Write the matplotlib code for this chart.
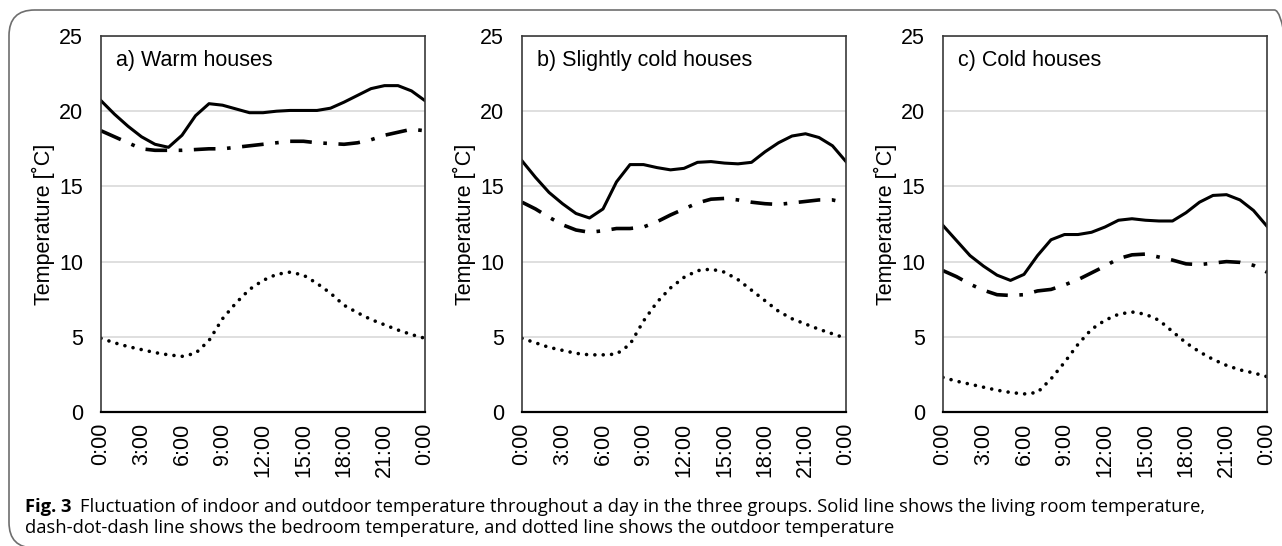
import matplotlib
matplotlib.use("Agg")
import matplotlib.pyplot as plt
from matplotlib.patches import FancyBboxPatch

plt.rcParams['font.family'] = ['Liberation Sans', 'DejaVu Sans']

hours = list(range(25))
tick_pos = [0, 3, 6, 9, 12, 15, 18, 21, 24]
tick_labels = ["0:00", "3:00", "6:00", "9:00", "12:00", "15:00", "18:00", "21:00", "0:00"]
titles = ["a) Warm houses", "b) Slightly cold houses", "c) Cold houses"]

# living room (solid)
living_a = [20.7, 19.8, 19.0, 18.3, 17.8, 17.6, 18.4, 19.7, 20.5, 20.4, 20.15, 19.9, 19.9,
            20.0, 20.05, 20.05, 20.05, 20.2, 20.6, 21.05, 21.5, 21.7, 21.7, 21.35, 20.7]
living_b = [16.7, 15.6, 14.6, 13.85, 13.2, 12.9, 13.5, 15.3, 16.45, 16.45, 16.25, 16.1, 16.2,
            16.6, 16.65, 16.55, 16.5, 16.6, 17.3, 17.9, 18.35, 18.5, 18.25, 17.7, 16.65]
living_c = [12.4, 11.4, 10.4, 9.7, 9.1, 8.75, 9.15, 10.4, 11.45, 11.8, 11.8, 11.95, 12.3,
            12.75, 12.85, 12.75, 12.7, 12.7, 13.25, 13.95, 14.4, 14.45, 14.1, 13.4, 12.35]

# bedroom (dash-dot-dash)
bedroom_a = [18.7, 18.3, 17.9, 17.5, 17.4, 17.4, 17.4, 17.45, 17.5, 17.5, 17.6, 17.7, 17.8,
             17.9, 18.0, 18.0, 17.9, 17.85, 17.8, 17.9, 18.1, 18.4, 18.6, 18.8, 18.7]
bedroom_b = [13.95, 13.5, 12.95, 12.45, 12.1, 11.95, 12.05, 12.2, 12.2, 12.3, 12.65, 13.1, 13.5,
             13.9, 14.15, 14.2, 14.1, 13.95, 13.85, 13.8, 13.9, 14.0, 14.1, 14.1, 13.9]
bedroom_c = [9.4, 9.0, 8.5, 8.1, 7.8, 7.75, 7.8, 8.05, 8.15, 8.45, 8.8, 9.25, 9.7,
             10.2, 10.45, 10.5, 10.3, 10.1, 9.85, 9.8, 9.9, 10.0, 9.95, 9.75, 9.3]

# outdoor (dotted)
outdoor_a = [4.9, 4.6, 4.35, 4.15, 3.95, 3.8, 3.7, 3.9, 4.75, 6.2, 7.25, 8.15, 8.75,
             9.15, 9.3, 9.1, 8.55, 7.9, 7.1, 6.6, 6.15, 5.8, 5.45, 5.15, 4.9]
outdoor_b = [4.9, 4.6, 4.3, 4.1, 3.9, 3.8, 3.8, 3.85, 4.5, 6.05, 7.3, 8.25, 8.95,
             9.4, 9.5, 9.3, 8.8, 8.1, 7.4, 6.7, 6.2, 5.85, 5.5, 5.2, 4.9]
outdoor_c = [2.3, 2.05, 1.85, 1.65, 1.45, 1.3, 1.2, 1.3, 2.2, 3.3, 4.5, 5.5, 6.1,
             6.5, 6.65, 6.5, 6.1, 5.35, 4.6, 4.0, 3.5, 3.1, 2.8, 2.6, 2.35]

groups = [(living_a, bedroom_a, outdoor_a),
          (living_b, bedroom_b, outdoor_b),
          (living_c, bedroom_c, outdoor_c)]

W, H = 1282, 546
fig = plt.figure(figsize=(W / 100, H / 100), dpi=100)

# rounded frame around the figure (cut at right and bottom like the source)
frame = FancyBboxPatch((9 / W, 1 - 548 / H), (1300 - 9) / W, (548 - 10) / H,
                       boxstyle="round,pad=0,rounding_size=0.02",
                       transform=fig.transFigure, fill=False,
                       edgecolor='#6e6e6e', linewidth=1.2, clip_on=False,
                       mutation_aspect=W / H)
fig.patches.append(frame)

lefts = [101, 522, 943]
for left, title, (living, bedroom, outdoor) in zip(lefts, titles, groups):
    ax = fig.add_axes([left / W, 1 - 412 / H, 324 / W, 376 / H])
    ax.plot(hours, living, color='black', lw=2.2, solid_joinstyle='round')
    ax.plot(hours, bedroom, color='black', lw=2.6,
            linestyle=(0, (6.0, 3.2, 1.0, 3.2)), dash_capstyle='butt')
    ax.plot(hours, outdoor, color='black', lw=2.6,
            linestyle=(0, (0.01, 2.3)), dash_capstyle='round')

    ax.set_xlim(0, 24)
    ax.set_ylim(0, 25)
    ax.set_yticks([0, 5, 10, 15, 20, 25])
    ax.set_xticks(tick_pos)
    ax.set_xticklabels(tick_labels, rotation=90)
    ax.tick_params(length=0, labelsize=15.5, colors='black')
    ax.tick_params(axis='y', pad=13)
    ax.tick_params(axis='x', pad=8)
    ax.grid(axis='y', color='#d9d9d9', lw=1.2)
    ax.set_axisbelow(True)
    for side in ['top', 'right', 'left']:
        ax.spines[side].set_color('#3a3a3a')
        ax.spines[side].set_linewidth(1.2)
    ax.spines['bottom'].set_color('black')
    ax.spines['bottom'].set_linewidth(1.6)
    ax.set_ylabel("Temperature [˚C]", fontsize=15.5, labelpad=3)
    ax.text(0.045, 0.935, title, transform=ax.transAxes, fontsize=15.5,
            va='center', ha='left')

# caption
cap_font = ['Open Sans', 'DejaVu Sans']
cap_size = 13.2
fig_label = fig.text(25 / W, 1 - 507 / H, "Fig. 3", fontsize=cap_size, fontweight='bold',
                     family=cap_font, va='center', ha='left')
fig.canvas.draw()
bb = fig_label.get_window_extent()
fig.text((bb.x1 + 9) / W, 1 - 507 / H,
         "Fluctuation of indoor and outdoor temperature throughout a day in the three groups. "
         "Solid line shows the living room temperature,",
         fontsize=cap_size, family=cap_font, va='center', ha='left')
fig.text(25 / W, 1 - 528 / H,
         "dash-dot-dash line shows the bedroom temperature, and dotted line shows the outdoor temperature",
         fontsize=cap_size, family=cap_font, va='center', ha='left')

plt.savefig("out.png", dpi=100)
